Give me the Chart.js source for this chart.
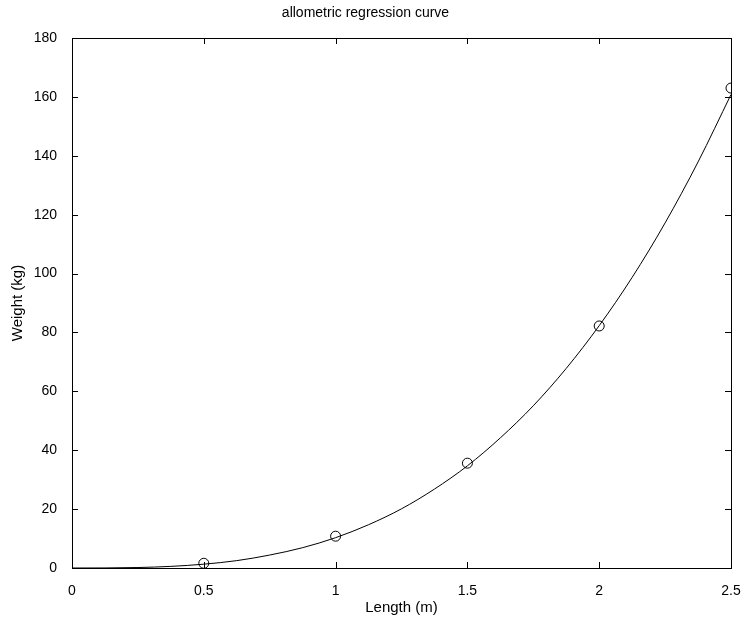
<!DOCTYPE html>
<html>
<head>
<meta charset="utf-8">
<script src="https://cdn.jsdelivr.net/npm/chart.js@4/dist/chart.umd.min.js"></script>
<style>
  html, body { margin: 0; padding: 0; background: #fff; }
  #wrap { width: 743px; height: 619px; }
</style>
</head>
<body>
<div id="wrap"><canvas id="c"></canvas></div>
<script>
// measured lengths / weights (circles)
const lengths = [0.5, 1, 1.5, 2, 2.5];
const weights = [1.6, 10.8, 35.6, 82.2, 163];

// fitted curve
const curveLen = [0, 0.125, 0.25, 0.375, 0.5, 0.625, 0.75, 0.875, 1, 1.125, 1.25, 1.375, 1.5, 1.625, 1.75, 1.875, 2, 2.125, 2.25, 2.375, 2.5];
const curveWeight = [0, 0.02, 0.16, 0.55, 1.3, 2.5, 4.4, 6.9, 10.3, 14.7, 20.1, 26.8, 34.7, 44.2, 55.1, 67.8, 82.3, 98.7, 117.2, 137.9, 160.8];

const xTicks = [0, 0.5, 1, 1.5, 2, 2.5];
const yTicks = [0, 20, 40, 60, 80, 100, 120, 140, 160, 180];

const FONT = "'Liberation Sans', Arial, sans-serif";

// matlab style box with inward ticks
const boxPlugin = {
  id: 'box',
  afterDraw(chart) {
    const { ctx, chartArea: a, scales } = chart;
    ctx.save();
    ctx.strokeStyle = '#000';
    ctx.lineWidth = 1;
    ctx.strokeRect(a.left + 0.5, a.top + 0.5, a.right - a.left, a.bottom - a.top);
    ctx.beginPath();
    xTicks.forEach(v => {
      const x = Math.round(scales.x.getPixelForValue(v)) + 0.5;
      ctx.moveTo(x, a.bottom); ctx.lineTo(x, a.bottom - 6);
      ctx.moveTo(x, a.top); ctx.lineTo(x, a.top + 6);
    });
    yTicks.forEach(v => {
      const y = Math.round(scales.y.getPixelForValue(v)) + 0.5;
      ctx.moveTo(a.left, y); ctx.lineTo(a.left + 6, y);
      ctx.moveTo(a.right, y); ctx.lineTo(a.right - 6, y);
    });
    ctx.stroke();
    ctx.restore();
  }
};

new Chart(document.getElementById('c'), {
  type: 'scatter',
  data: {
    datasets: [{
      label: 'fit',
      data: curveLen.map((x, i) => ({ x, y: curveWeight[i] })),
      showLine: true,
      borderColor: '#000',
      borderWidth: 1,
      pointRadius: 0,
      tension: 0.4,
      cubicInterpolationMode: 'monotone'
    }, {
      label: 'data',
      data: lengths.map((x, i) => ({ x, y: weights[i] })),
      showLine: false,
      pointStyle: 'circle',
      pointRadius: 5,
      borderColor: '#000',
      borderWidth: 1,
      backgroundColor: 'rgba(0,0,0,0)'
    }]
  },
  options: {
    responsive: true,
    maintainAspectRatio: false,
    animation: false,
    layout: { padding: { left: 0, right: 12, top: 0, bottom: 0 } },
    plugins: {
      legend: { display: false },
      tooltip: { enabled: false },
      title: {
        display: true,
        text: 'allometric regression curve',
        color: '#000',
        font: { family: FONT, size: 14, weight: 'normal' },
        padding: { top: 5, bottom: 16.2 }
      }
    },
    scales: {
      x: {
        type: 'linear',
        min: 0,
        max: 2.5,
        afterBuildTicks: s => { s.ticks = xTicks.map(v => ({ value: v })); },
        afterFit: s => { s.height = 51; s.paddingLeft = 0; s.paddingRight = 0; },
        grid: { display: false },
        border: { display: false },
        ticks: {
          color: '#000', padding: 7, font: { family: FONT, size: 14 },
          callback: v => String(v)
        },
        title: {
          display: true, text: 'Length (m)', color: '#000',
          font: { family: FONT, size: 15 }, padding: { top: 0, bottom: 2 }
        }
      },
      y: {
        type: 'linear',
        min: 0,
        max: 180,
        afterBuildTicks: s => { s.ticks = yTicks.map(v => ({ value: v })); },
        afterFit: s => { s.width = 72; s.paddingTop = 0; s.paddingBottom = 0; },
        grid: { display: false },
        border: { display: false },
        ticks: { color: '#000', padding: 7, font: { family: FONT, size: 14 } },
        title: {
          display: true, text: 'Weight (kg)', color: '#000',
          font: { family: FONT, size: 15 }, padding: { top: 9, bottom: 0 }
        }
      }
    }
  },
  plugins: [boxPlugin]
});
</script>
</body>
</html>
